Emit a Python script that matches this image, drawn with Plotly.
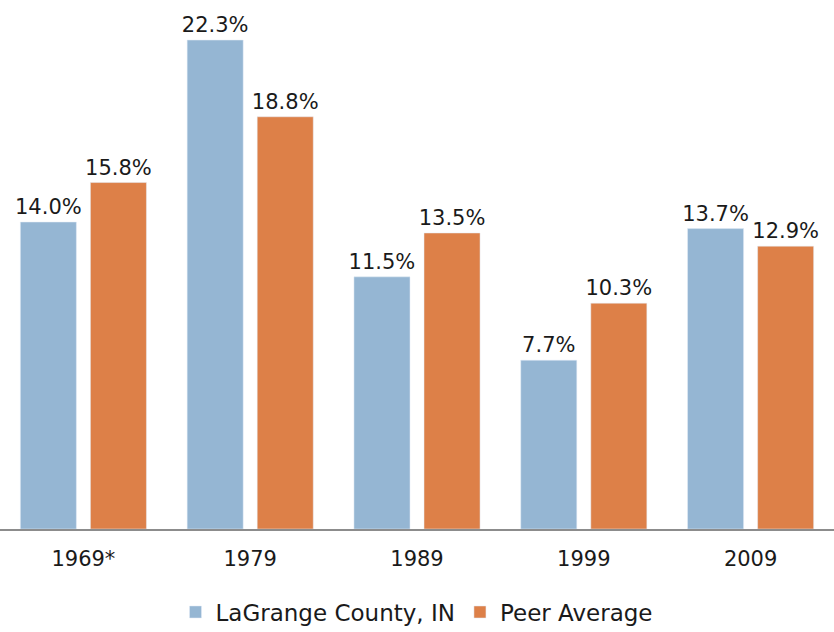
import plotly.graph_objects as go

categories = ["1969*", "1979", "1989", "1999", "2009"]
lagrange = [14.0, 22.3, 11.5, 7.7, 13.7]
peer = [15.8, 18.8, 13.5, 10.3, 12.9]
series_names = ["LaGrange County, IN", "Peer Average"]

font_family = "Century Gothic, URW Gothic, DejaVu Sans, sans-serif"
text_color = "#1a1a1a"
fs = 21

fig = go.Figure()
fig.add_trace(go.Bar(
    x=categories, y=lagrange, name=series_names[0],
    marker=dict(color="#95b6d3"),
    text=[f"{v:.1f}%" for v in lagrange], textposition="outside",
    textfont=dict(size=fs, color=text_color, family=font_family),
    constraintext="none", cliponaxis=False,
))
fig.add_trace(go.Bar(
    x=categories, y=peer, name=series_names[1],
    marker=dict(color="#dd8048"),
    text=[f"{v:.1f}%" for v in peer], textposition="outside",
    textfont=dict(size=fs, color=text_color, family=font_family),
    constraintext="none", cliponaxis=False,
))

fig.update_layout(
    width=834, height=632,
    margin=dict(l=0, r=0, t=10, b=103, autoexpand=False),
    barmode="group", bargap=0.16, bargroupgap=0.2,
    plot_bgcolor="white", paper_bgcolor="white",
    font=dict(family=font_family, size=fs, color=text_color),
    showlegend=True,
    legend=dict(orientation="h", x=0.5, xanchor="center", y=-0.16, yanchor="middle",
                font=dict(size=23, color=text_color), traceorder="normal",
                itemwidth=30),
)
fig.update_xaxes(showline=True, linecolor="#8c8c8c", linewidth=1.5, ticks="",
                 tickfont=dict(size=fs, color=text_color), showgrid=False,
                 automargin=False, ticklabelstandoff=10)
fig.update_yaxes(range=[0, 23.67], visible=False, showgrid=False, automargin=False)

fig.write_html("out.html", config={"displayModeBar": False},
               post_script="document.body.style.margin='0';")
